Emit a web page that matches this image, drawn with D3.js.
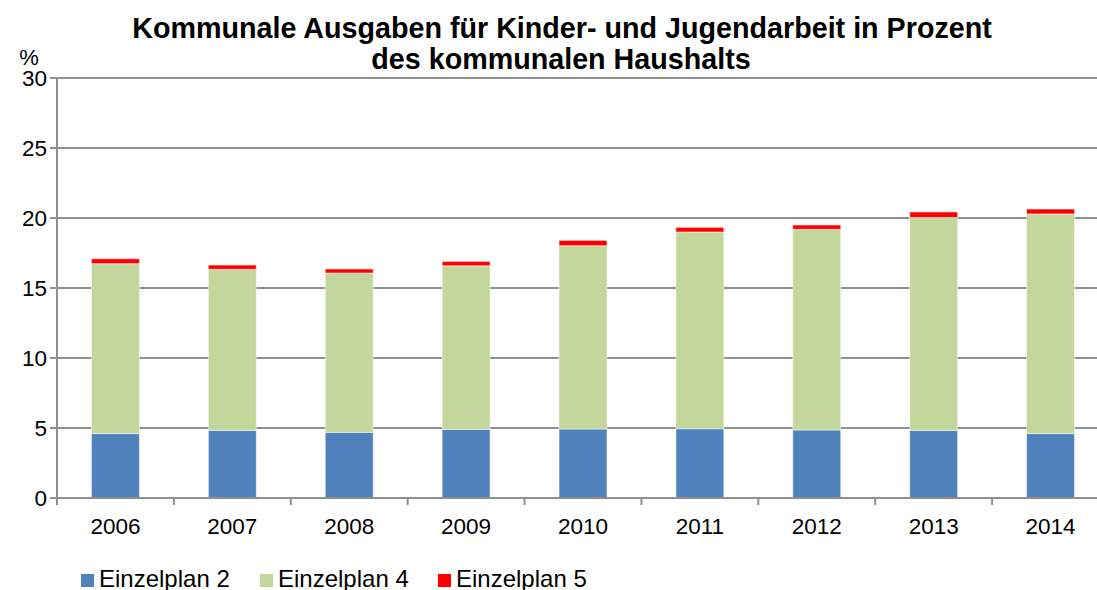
<!DOCTYPE html>
<html>
<head>
<meta charset="utf-8">
<script src="https://cdn.jsdelivr.net/npm/d3@7"></script>
<style>
    body { margin: 0; background: #fff; }
    svg { display: block; font-family: "Liberation Sans", Arial, Helvetica, sans-serif; }
</style>
</head>
<body>
<svg id="chart"></svg>
<script>
const years = ["2006", "2007", "2008", "2009", "2010", "2011", "2012", "2013", "2014"]
const einzelplan2 = [4.6, 4.83, 4.69, 4.9, 4.93, 4.95, 4.86, 4.83, 4.6]
const einzelplan4 = [12.14, 11.5, 11.38, 11.69, 13.09, 14.05, 14.33, 15.21, 15.69]
const einzelplan5 = [0.35, 0.31, 0.29, 0.31, 0.38, 0.33, 0.31, 0.39, 0.35]
const seriesNames = ["Einzelplan 2", "Einzelplan 4", "Einzelplan 5"]
const yTicks = [0, 5, 10, 15, 20, 25, 30]

const config = {
    width: 1097,
    height: 590,
    left: 57,
    right: 1109,   // plot runs past the right edge of the picture
    top: 78,
    bottom: 498,
    colors: ["#4f81bd", "#c3d69b", "#ff0000"],
    grid: "#8f8f8f"
}

const table = years.map((y, i) => ({
    year: y,
    "Einzelplan 2": einzelplan2[i],
    "Einzelplan 4": einzelplan4[i],
    "Einzelplan 5": einzelplan5[i]
}))

const svg = d3.select("svg#chart")
    .attr("width", config.width)
    .attr("height", config.height)

const x = d3.scaleBand().domain(years).range([config.left, config.right]).paddingInner(0.59).paddingOuter(0.295)
const xTickScale = d3.scaleBand().domain(years).range([config.left, config.right])
const y = d3.scaleLinear().domain([0, 30]).range([config.bottom, config.top])

// gridlines
svg.append("g")
    .selectAll("line")
    .data(yTicks)
    .join("line")
    .attr("x1", config.left - 7).attr("x2", config.width)
    .attr("y1", d => y(d)).attr("y2", d => y(d))
    .style("stroke", config.grid)
    .style("stroke-width", 2)

// y labels
svg.append("g")
    .selectAll("text")
    .data(yTicks)
    .join("text")
    .attr("x", 47)
    .attr("y", d => y(d))
    .attr("dy", "0.36em")
    .attr("text-anchor", "end")
    .style("font-size", "22.5px")
    .text(d => d)

svg.append("text")
    .attr("x", 29).attr("y", 65)
    .attr("text-anchor", "middle")
    .style("font-size", "22px")
    .text("%")

// stacked bars
const stack = d3.stack().keys(seriesNames)(table)
svg.append("g")
    .selectAll("g")
    .data(stack)
    .join("g")
    .style("fill", (d, i) => config.colors[i])
    .selectAll("rect")
    .data(d => d)
    .join("rect")
    .attr("x", d => x(d.data.year))
    .attr("width", x.bandwidth())
    .attr("y", d => y(d[1]))
    .attr("height", d => y(d[0]) - y(d[1]))
    .style("stroke", "#fff")
    .style("stroke-opacity", 0.5)
    .style("stroke-width", 1)

// x axis line
svg.append("line")
    .attr("x1", config.left).attr("x2", config.width)
    .attr("y1", config.bottom).attr("y2", config.bottom)
    .style("stroke", config.grid).style("stroke-width", 2)

svg.append("line")
    .attr("x1", config.left).attr("x2", config.left)
    .attr("y1", config.top).attr("y2", config.bottom + 7)
    .style("stroke", config.grid).style("stroke-width", 2)

// x ticks between categories
svg.append("g")
    .selectAll("line")
    .data(years.slice(1))
    .join("line")
    .attr("x1", d => xTickScale(d)).attr("x2", d => xTickScale(d))
    .attr("y1", config.bottom).attr("y2", config.bottom + 7)
    .style("stroke", config.grid).style("stroke-width", 2)

svg.append("g")
    .selectAll("text")
    .data(years)
    .join("text")
    .attr("x", d => x(d) + x.bandwidth() / 2)
    .attr("y", 534)
    .attr("text-anchor", "middle")
    .style("font-size", "22.5px")
    .text(d => d)

// title
const title = svg.append("text")
    .attr("text-anchor", "middle")
    .style("font-size", "28.7px")
    .style("font-weight", "bold")
title.append("tspan").attr("x", 562).attr("y", 38).text("Kommunale Ausgaben für Kinder- und Jugendarbeit in Prozent")
title.append("tspan").attr("x", 561).attr("y", 69).text("des kommunalen Haushalts")

// legend
const legendX = [81, 260, 438]
const legend = svg.append("g")
    .selectAll("g")
    .data(seriesNames)
    .join("g")
    .attr("transform", (d, i) => `translate(${legendX[i]},574)`)
legend.append("rect")
    .attr("width", 13).attr("height", 13)
    .style("fill", (d, i) => config.colors[i])
legend.append("text")
    .attr("x", 18).attr("y", 12.5)
    .style("font-size", "24px")
    .text(d => d)
</script>
</body>
</html>
